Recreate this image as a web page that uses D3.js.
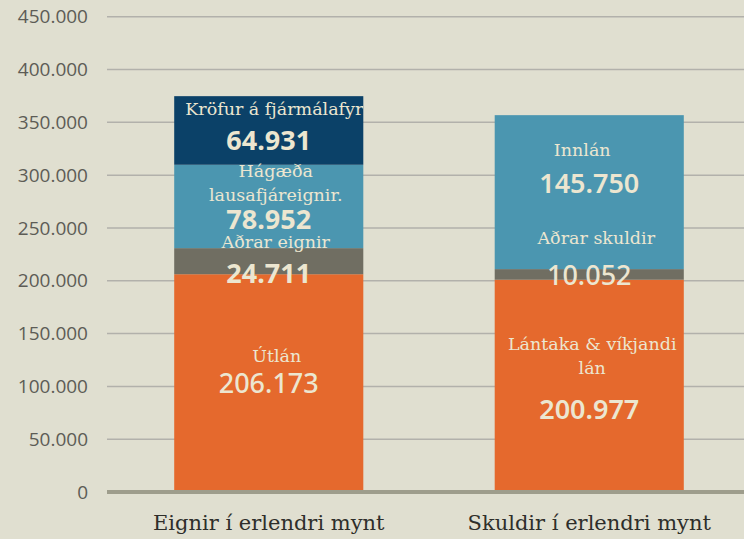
<!DOCTYPE html>
<html>
<head>
<meta charset="utf-8">
<script src="https://cdn.jsdelivr.net/npm/d3@7"></script>
<style>
  html, body { margin: 0; padding: 0; background: #e0dfd0; }
  svg { display: block; }
</style>
</head>
<body>
<div class="chart"></div>
<script>
const categories = ['Eignir í erlendri mynt', 'Skuldir í erlendri mynt'];

// segments bottom -> top for each bar
const assetNames = ['Útlán', 'Aðrar eignir', 'Hágæða\nlausafjáreignir.', 'Kröfur á fjármálafyrirtæki'];
const assetValues = [206173, 24711, 78952, 64931];
const liabilityNames = ['Lántaka & víkjandi\nlán', 'Aðrar skuldir', 'Innlán'];
const liabilityValues = [200977, 10052, 145750];

const tickValues = [0, 50000, 100000, 150000, 200000, 250000, 300000, 350000, 400000, 450000];

const segColors = {
  'Útlán': '#e5692d',
  'Lántaka & víkjandi\nlán': '#e5692d',
  'Aðrar eignir': '#706e62',
  'Aðrar skuldir': '#706e62',
  'Hágæða\nlausafjáreignir.': '#4b96b0',
  'Innlán': '#4b96b0',
  'Kröfur á fjármálafyrirtæki': '#0b4168'
};

// label placement relative to segment middle (pixels): name line dy, value dy, name dx, value weight
const labelLayout = {
  'Útlán': { nameDy: -21, valueDy: 10, nameDx: 8, weight: 500 },
  'Aðrar eignir': { nameDy: -13, valueDy: 22, nameDx: 7, weight: 700 },
  'Hágæða\nlausafjáreignir.': { nameDy: -29.5, valueDy: 22.5, nameDx: 7, weight: 700 },
  'Kröfur á fjármálafyrirtæki': { nameDy: -15, valueDy: 20, nameDx: 0, weight: 700, left: true },
  'Lántaka & víkjandi\nlán': { nameDy: -35.5, valueDy: 33.5, nameDx: 3, weight: 600 },
  'Aðrar skuldir': { nameDy: -30, valueDy: 11, nameDx: 7, weight: 500 },
  'Innlán': { nameDy: -36, valueDy: 1, nameDx: -7, weight: 600 }
};

const W = 744, H = 539;

const svg = d3.select('.chart')
  .append('svg')
  .attr('width', W)
  .attr('height', H);

svg.append('rect')
  .attr('width', W)
  .attr('height', H)
  .attr('fill', '#e0dfd0');

const yScale = d3.scaleLinear()
  .domain([0, 450000])
  .range([492, 16.7]);

const xScale = d3.scaleBand()
  .domain(categories)
  .range([108.5, 749.5])
  .paddingInner(0.41)
  .paddingOuter(0.205);

const fmt = v => d3.format(',')(v).replace(/,/g, '.');

// gridlines
svg.append('g')
  .selectAll('line')
  .data(tickValues.filter(d => d > 0))
  .enter()
  .append('line')
  .attr('x1', 107)
  .attr('x2', W)
  .attr('y1', d => yScale(d))
  .attr('y2', d => yScale(d))
  .attr('stroke', '#b2b1ab')
  .attr('stroke-width', 1.5);

// y axis labels
const yAxis = d3.axisLeft(yScale)
  .tickValues(tickValues)
  .tickSize(0)
  .tickPadding(0)
  .tickFormat(fmt);
svg.append('g')
  .attr('transform', 'translate(88, 0)')
  .call(yAxis)
  .call(g => g.select('.domain').remove())
  .call(g => g.selectAll('text')
    .attr('font-family', 'Open Sans, sans-serif')
    .attr('font-size', '19px')
    .attr('fill', '#5d5c56'));

const stacks = [
  { cat: categories[0], names: assetNames, values: assetValues },
  { cat: categories[1], names: liabilityNames, values: liabilityValues }
];

const defs = svg.append('defs');

stacks.forEach((s, si) => {
  let acc = 0;
  const segs = s.names.map((name, i) => {
    const seg = { name, value: s.values[i], y0: acc, y1: acc + s.values[i] };
    acc += s.values[i];
    return seg;
  });

  const x0 = xScale(s.cat);
  const bw = xScale.bandwidth();
  const cx = x0 + bw / 2;

  defs.append('clipPath')
    .attr('id', 'clip' + si)
    .append('rect')
    .attr('x', x0)
    .attr('y', 0)
    .attr('width', bw)
    .attr('height', H);

  const g = svg.append('g');
  g.selectAll('rect')
    .data(segs)
    .enter()
    .append('rect')
    .attr('x', x0)
    .attr('y', d => yScale(d.y1))
    .attr('width', bw)
    .attr('height', d => yScale(d.y0) - yScale(d.y1))
    .attr('fill', d => segColors[d.name]);

  const labels = svg.append('g').attr('clip-path', `url(#clip${si})`);
  segs.forEach(d => {
    const L = labelLayout[d.name];
    const mid = (yScale(d.y0) + yScale(d.y1)) / 2;
    const lines = d.name.split('\n');
    const t = labels.append('text')
      .attr('font-family', 'DejaVu Serif, serif')
      .attr('font-size', '17.5px')
      .attr('fill', '#ece6d0')
      .attr('text-anchor', L.left ? 'start' : 'middle');
    lines.forEach((ln, li) => {
      t.append('tspan')
        .attr('x', L.left ? x0 + 11 : cx + L.nameDx)
        .attr('y', mid + L.nameDy + li * 24)
        .text(ln);
    });
    labels.append('text')
      .attr('x', cx)
      .attr('y', mid + L.valueDy)
      .attr('text-anchor', 'middle')
      .attr('font-family', 'Noto Sans, sans-serif')
      .attr('font-weight', L.weight)
      .attr('font-size', '27px')
      .attr('fill', '#ece6d0')
      .text(fmt(d.value));
  });
});

// baseline
svg.append('line')
  .attr('x1', 107)
  .attr('x2', W)
  .attr('y1', yScale(0))
  .attr('y2', yScale(0))
  .attr('stroke', '#9e9d8c')
  .attr('stroke-width', 4);

// category labels
svg.append('g')
  .selectAll('text')
  .data(categories)
  .enter()
  .append('text')
  .attr('x', d => xScale(d) + xScale.bandwidth() / 2)
  .attr('y', 530)
  .attr('text-anchor', 'middle')
  .attr('font-family', 'DejaVu Serif, serif')
  .attr('font-size', '21px')
  .attr('fill', '#2e2e2a')
  .text(d => d);
</script>
</body>
</html>
